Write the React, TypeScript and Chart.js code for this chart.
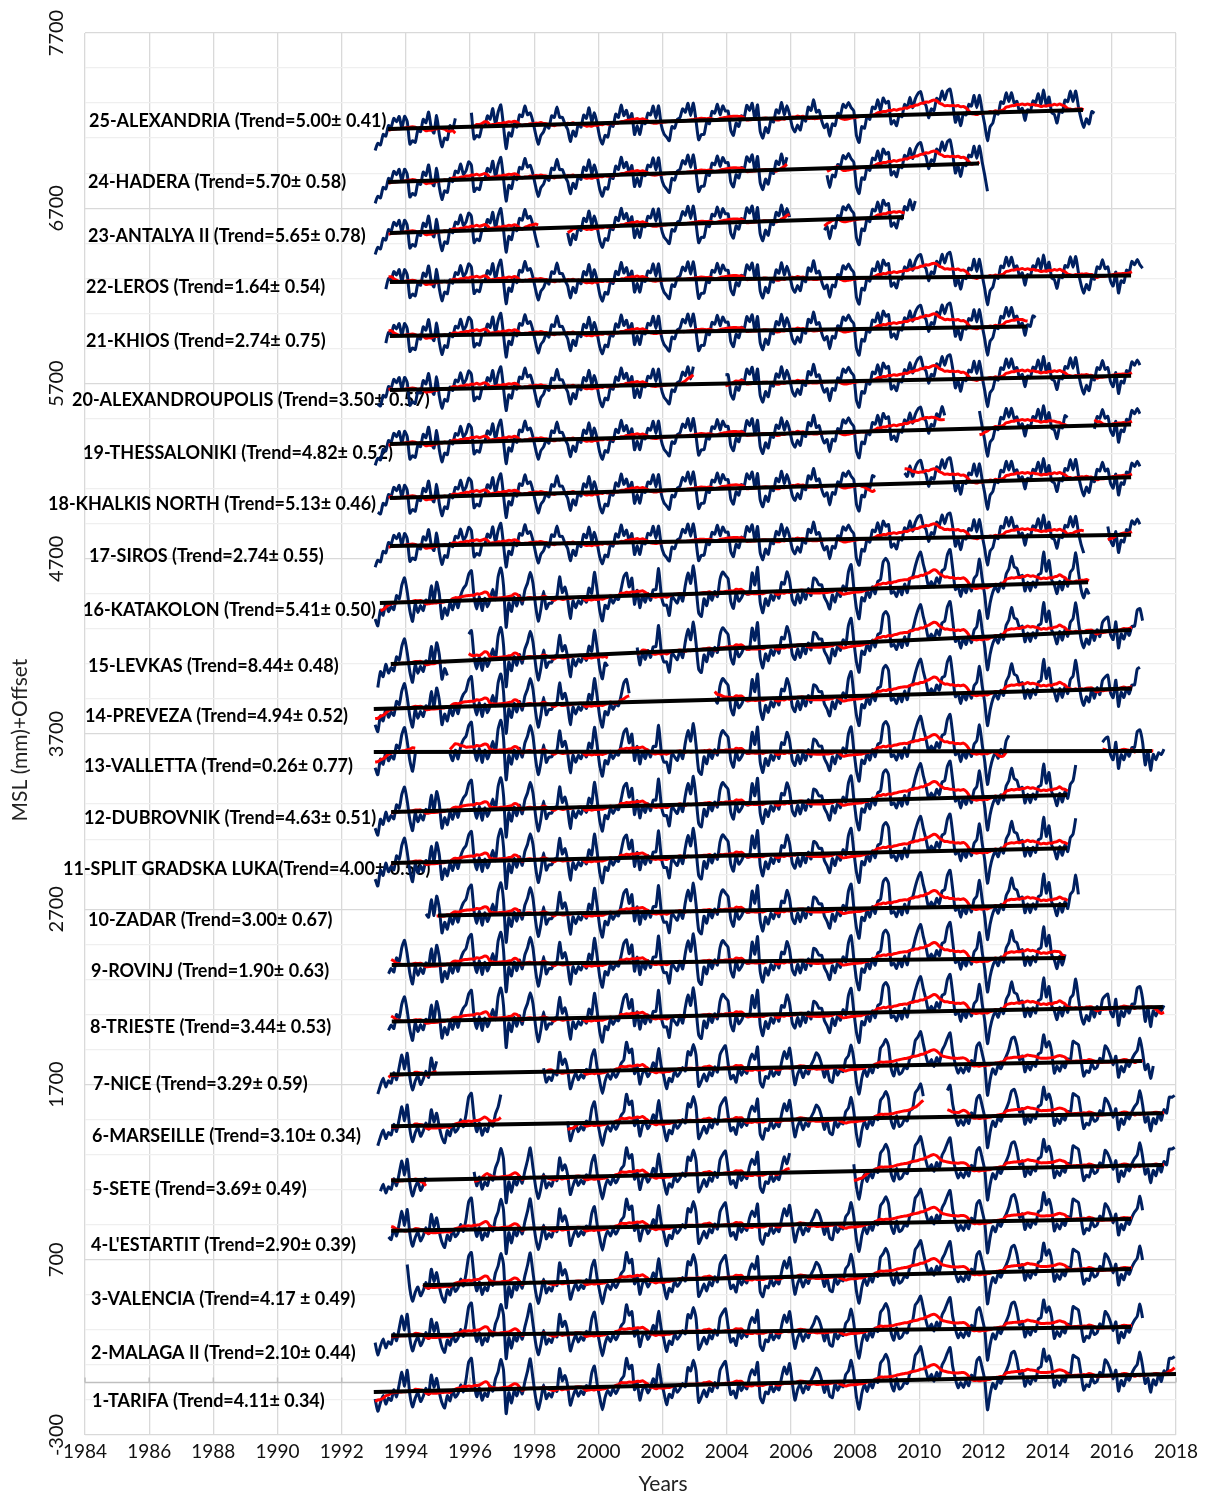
import { useEffect, useRef } from "react";
import { Chart, registerables } from "chart.js";

Chart.register(...registerables);

// ---------------- DATA ----------------
// Monthly MSL anomaly patterns (mm), one row per year, Jan..Dec, 1993..2017
const ANOM_WEST: number[][] = [
  [-40, -110, -60, -20, -70, -35, -50, 10, -30, 40, 110, 30],
  [120, -20, -90, -40, -10, -60, -30, 15, -20, 90, 20, 70],
  [-10, -70, -100, -30, -60, 0, -40, -20, 30, -10, 60, 160],
  [180, 40, -40, 10, -60, -20, -40, 20, -10, 60, 100, 170],
  [110, -140, -20, -80, -10, -40, 10, -30, 40, 100, 170, 60],
  [-50, -120, -60, 20, -60, -30, -50, 0, -20, 110, 40, 70],
  [10, -100, -50, -10, -50, -20, -40, 10, -10, 80, 120, 20],
  [-60, -130, -60, -20, -50, -10, -40, -10, 40, 60, 160, 100],
  [120, -20, 20, -80, -20, 0, -40, -10, 40, 10, 120, 20],
  [-40, -110, -50, -70, -10, -40, -20, 10, -10, 100, 80, 140],
  [80, -100, -70, -30, -70, -20, -40, 10, -20, 80, 110, 130],
  [30, -60, -40, -80, 0, -40, -10, -30, 40, 80, 50, 120],
  [-80, -110, -50, -60, -10, -50, -20, -40, 30, 90, 50, 110],
  [0, -100, -40, -10, -60, -20, -40, 10, 40, 80, 60, 10],
  [-60, -10, -80, -90, -10, -50, -20, -30, 40, 60, 120, 40],
  [-90, -160, -70, -20, -60, -10, -40, 10, -10, 100, 120, 150],
  [110, -20, -60, 10, -50, -40, -10, -20, 40, 50, 140, 160],
  [190, 120, 50, 0, 30, -10, 40, 10, 80, 110, 150, 180],
  [70, 0, -50, -20, -50, -10, -40, 20, 0, 100, 120, 60],
  [-10, -180, -90, -30, -60, -10, -30, 10, 40, 80, 140, 150],
  [100, 20, 40, -50, -10, -40, 0, -20, 50, 60, 160, 90],
  [120, 60, -60, -20, -50, -10, -30, 20, 10, 120, 110, 100],
  [10, -80, -50, -60, -10, -40, -30, 20, 0, 90, 70, 30],
  [-20, 30, -90, -30, -60, -10, -30, 10, 40, 60, 130, 50],
  [-50, -20, -100, -30, -60, 0, -40, 20, 0, 90, 90, 100],
];

const ANOM_CENTRAL: number[][] = [
  [-90, -130, -40, -70, 0, -50, -20, -40, 40, 20, 100, 140],
  [60, -50, -110, -10, -60, -20, -50, 10, -10, 90, 0, 110],
  [40, -100, -40, -80, -10, -50, 10, -40, 30, 70, 90, 150],
  [170, 20, -50, 20, -60, 10, -40, 0, 60, 0, 130, 180],
  [80, -160, -20, -70, 10, -40, 20, -30, 50, 90, 150, 90],
  [-40, -130, -60, 40, -60, -30, -30, 0, 10, 120, 30, 60],
  [-10, -120, -20, -60, -20, -40, 0, -30, 50, 20, 140, 40],
  [-80, -140, -50, -70, -10, -40, -10, -20, 40, 110, 130, 50],
  [100, -50, 30, -70, 0, -40, 10, -30, 30, 30, 150, 0],
  [-60, -60, -120, -10, -30, -50, 0, -40, 50, 120, 60, 160],
  [40, -110, -130, -30, -70, 0, -40, 10, -20, 80, 120, 100],
  [80, -50, -90, 0, -50, -30, 0, -10, -10, 110, 40, 140],
  [-60, -120, -40, -80, -20, -50, 0, -40, 50, 40, 110, 60],
  [-50, -80, -20, -70, -10, -50, 10, -30, 70, 60, 30, 30],
  [-40, -70, -110, -30, -70, -10, -40, 20, -10, 100, 140, 10],
  [-110, -170, -50, -70, -10, -50, 10, -30, 40, 50, 150, 170],
  [140, -30, -20, -50, 0, -40, 20, -30, 50, 60, 120, 170],
  [200, 130, 70, 0, 30, 0, 50, 20, 90, 100, 180, 210],
  [100, -20, 0, -60, 0, -40, 10, -30, 40, 60, 150, 40],
  [-60, -190, -100, -40, -10, -40, 10, -20, 60, 90, 160, 100],
  [90, 40, 50, -40, 10, -40, 10, -20, 50, 60, 180, 70],
  [130, 20, -10, -60, 10, -40, 20, -20, 60, 80, 170, 60],
  [-40, -90, -40, -70, 0, -50, 10, -30, 50, 70, 80, -20],
  [-50, 50, -100, -20, -50, 0, -30, 20, 20, 110, 120, 50],
  [-80, 0, -110, -20, -50, -10, -20, 10, 40, 50, 130, 80],
];

const ANOM_EAST: number[][] = [
  [-120, -80, -90, -30, -40, 20, 10, 60, 40, 70, 0, 70],
  [40, -90, -70, -80, -10, -20, 50, 30, 90, 0, -30, 70],
  [-40, -110, -60, -70, 10, -10, 50, 40, 90, 30, 50, 100],
  [80, -70, -50, -60, 0, 0, 60, 40, 100, 10, 80, 120],
  [0, -130, -40, -60, 10, -10, 60, 50, 110, 60, 70, 20],
  [-50, -110, -60, -40, 0, -20, 50, 40, 100, 40, 40, 0],
  [-30, -100, -40, -70, 0, -20, 50, 30, 90, 10, 60, 0],
  [-80, -120, -70, -80, -10, -20, 50, 30, 100, 40, 70, 10],
  [50, -70, -20, -70, 0, -10, 50, 40, 90, 20, 90, -20],
  [-70, -90, -110, -30, -40, 10, 20, 70, 50, 100, 30, 100],
  [0, -110, -80, -80, -10, -20, 50, 40, 90, 30, 80, 50],
  [50, -60, -90, -20, -40, 20, 10, 80, 50, 90, 0, 80],
  [-70, -110, -50, -80, -10, -20, 50, 30, 90, 20, 70, 20],
  [-50, -80, -40, -70, 0, -20, 60, 40, 100, 30, 40, -20],
  [-60, -40, -110, -40, -50, 20, 10, 70, 50, 80, 50, 30],
  [-110, -150, -60, -70, 0, -20, 50, 40, 90, 30, 100, 70],
  [80, -50, -30, -60, 0, -10, 60, 40, 100, 40, 90, 120],
  [130, 70, 50, -20, 30, 20, 90, 70, 130, 80, 130, 140],
  [60, -50, -10, -70, 0, -10, 50, 40, 100, 30, 100, 10],
  [-70, -160, -80, -60, 0, -10, 60, 50, 110, 60, 110, 50],
  [60, 0, 20, -50, 10, 0, 60, 50, 100, 40, 120, 30],
  [80, -10, -20, -70, 0, -10, 60, 50, 110, 50, 110, 20],
  [-50, -100, -50, -80, -10, -20, 50, 40, 90, 40, 50, -30],
  [-60, 20, -100, -30, -40, 30, 20, 80, 60, 90, 60, 40],
  [-80, -20, -110, -30, -40, 20, 10, 70, 50, 70, 40, 70],
];

const FIRST_YEAR = 1993;

// Stations 1..25
const STATION_LABELS = [
  "1-TARIFA (Trend=4.11± 0.34)",
  "2-MALAGA II (Trend=2.10± 0.44)",
  "3-VALENCIA (Trend=4.17 ± 0.49)",
  "4-L'ESTARTIT (Trend=2.90± 0.39)",
  "5-SETE (Trend=3.69± 0.49)",
  "6-MARSEILLE (Trend=3.10± 0.34)",
  "7-NICE (Trend=3.29± 0.59)",
  "8-TRIESTE (Trend=3.44± 0.53)",
  "9-ROVINJ (Trend=1.90± 0.63)",
  "10-ZADAR (Trend=3.00± 0.67)",
  "11-SPLIT GRADSKA LUKA(Trend=4.00± 0.56)",
  "12-DUBROVNIK (Trend=4.63± 0.51)",
  "13-VALLETTA (Trend=0.26± 0.77)",
  "14-PREVEZA (Trend=4.94± 0.52)",
  "15-LEVKAS (Trend=8.44± 0.48)",
  "16-KATAKOLON (Trend=5.41± 0.50)",
  "17-SIROS (Trend=2.74± 0.55)",
  "18-KHALKIS NORTH (Trend=5.13± 0.46)",
  "19-THESSALONIKI (Trend=4.82± 0.52)",
  "20-ALEXANDROUPOLIS (Trend=3.50± 0.57)",
  "21-KHIOS (Trend=2.74± 0.75)",
  "22-LEROS (Trend=1.64± 0.54)",
  "23-ANTALYA II (Trend=5.65± 0.78)",
  "24-HADERA (Trend=5.70± 0.58)",
  "25-ALEXANDRIA (Trend=5.00± 0.41)",
];

// 0 = west, 1 = central, 2 = east
const STATION_REGION = [0, 0, 0, 0, 0, 0, 0, 1, 1, 1, 1, 1, 1, 1, 1, 1, 2, 2, 2, 2, 2, 2, 2, 2, 2];

const TREND_RATE = [4.11, 2.1, 4.17, 2.9, 3.69, 3.1, 3.29, 3.44, 1.9, 3.0, 4.0, 4.63, 0.26, 4.94, 8.44, 5.41, 2.74, 5.13, 4.82, 3.5, 2.74, 1.64, 5.65, 5.7, 5.0];

const TREND_START = [1993.0, 1993.54, 1994.53, 1993.54, 1993.54, 1993.54, 1993.5, 1993.56, 1993.56, 1995.0, 1993.54, 1993.54, 1993.0, 1993.0, 1993.53, 1993.19, 1993.5, 1993.5, 1993.5, 1993.5, 1993.5, 1993.5, 1993.5, 1993.44, 1993.44];

const TREND_END = [2018.0, 2016.6, 2016.6, 2016.6, 2017.59, 2017.59, 2016.94, 2017.59, 2014.54, 2014.6, 2014.6, 2014.6, 2017.25, 2016.63, 2016.6, 2015.26, 2016.6, 2016.6, 2016.6, 2016.6, 2013.35, 2016.6, 2009.52, 2011.86, 2015.1];

// MSL + offset (mm) of the trend line at its start
const TREND_LEVEL = [-55, 268, 555, 865, 1152, 1462, 1757, 2059, 2382, 2665, 2964, 3255, 3597, 3843, 4099, 4447, 4773, 5047, 5355, 5663, 5971, 6279, 6559, 6850, 7152];

// Periods with monthly data (decimal years)
const DATA_PERIODS: number[][][] = [
  [[1993.0, 2018.0]],
  [[1993.0, 2017.0]],
  [[1994.0, 2017.0]],
  [[1993.4, 2017.0]],
  [[1993.2, 1994.65], [1996.06, 2006.0], [2007.9, 2018.0]],
  [[1993.05, 1997.0], [1998.96, 2010.15], [2010.86, 2018.0]],
  [[1993.05, 1995.0], [1998.27, 2017.3]],
  [[1993.4, 2017.7]],
  [[1993.4, 2014.6]],
  [[1994.6, 2015.0]],
  [[1993.0, 2014.9]],
  [[1993.0, 2014.95]],
  [[1993.0, 1994.3], [1995.3, 2012.8], [2015.7, 2017.65]],
  [[1993.0, 2001.0], [2003.6, 2016.9]],
  [[1993.1, 1995.3], [1995.9, 2000.3], [2001.2, 2017.0]],
  [[1993.0, 2015.3]],
  [[1993.0, 2015.2], [2015.8, 2016.95]],
  [[1993.1, 2008.7], [2009.5, 2016.95]],
  [[1993.0, 2010.8], [2011.8, 2014.7], [2015.4, 2016.95]],
  [[1993.1, 2003.0], [2003.95, 2016.9]],
  [[1993.3, 2013.7]],
  [[1993.3, 2016.97]],
  [[1993.0, 1998.2], [1999.0, 2006.0], [2007.0, 2009.9]],
  [[1993.0, 2005.9], [2007.1, 2012.2]],
  [[1993.0, 1995.6], [1996.0, 2015.5]],
];

const Y_TICK_LABELS = [-300, 700, 1700, 2700, 3700, 4700, 5700, 6700, 7700];
const X_MIN = 1984;
const X_MAX = 2018;
const X_STEP = 2;
const Y_MIN = -300;
const Y_MAX = 7700;
const Y_GRID_STEP = 200;

// ---------------- LAYOUT (pixels) ----------------
const LABEL_X = [92, 91, 91, 91, 92, 92, 93, 90, 91, 88, 63, 84, 84, 85, 88, 83, 89, 48, 83, 72, 86, 86, 88, 88, 89];
const LABEL_Y = [1401, 1353, 1299, 1245, 1189, 1136, 1084, 1027, 971, 920, 869, 818, 766, 716, 666, 610, 556, 504, 453, 400, 341, 287, 236, 182, 121];

const NAVY = "#002060";
const RED = "#ff0000";
const FONT = "Lato, 'Open Sans', sans-serif";

function buildDatasets() {
  const regions = [ANOM_WEST, ANOM_CENTRAL, ANOM_EAST].map((r) => r.flat());
  const navySets: any[] = [];
  const redSets: any[] = [];
  const trendSets: any[] = [];
  for (let k = 0; k < STATION_LABELS.length; k++) {
    const anom = regions[STATION_REGION[k]];
    const rate = TREND_RATE[k];
    const t0 = TREND_START[k];
    const t1 = TREND_END[k];
    const v0 = TREND_LEVEL[k];
    const periods = DATA_PERIODS[k];
    const times = anom.map((_, i) => FIRST_YEAR + (i + 0.5) / 12);
    const navy: (number | null)[] = anom.map((a, i) => {
      const t = times[i];
      const on = periods.some(([s, e]) => t >= s && t <= e);
      return on ? v0 + rate * (t - t0) + a : null;
    });
    // 12-month running mean inside each continuous run, restricted to trend span
    const red: (number | null)[] = navy.map(() => null);
    let i = 0;
    while (i < navy.length) {
      if (navy[i] === null) {
        i++;
        continue;
      }
      let j = i;
      while (j + 1 < navy.length && navy[j + 1] !== null) j++;
      for (let m = i; m <= j; m++) {
        const t = times[m];
        if (t < t0 - 0.05 || t > t1 + 0.05) continue;
        let sum = 0;
        let n = 0;
        for (let q = Math.max(i, m - 6); q <= Math.min(j, m + 6); q++) {
          sum += navy[q] as number;
          n++;
        }
        red[m] = sum / n;
      }
      i = j + 1;
    }
    navySets.push({
      data: times.map((t, m) => ({ x: t, y: navy[m] })),
      borderColor: NAVY,
      borderWidth: 3,
      tension: 0.2,
      spanGaps: false,
      pointRadius: 0,
      order: 3,
    });
    redSets.push({
      data: times.map((t, m) => ({ x: t, y: red[m] })),
      borderColor: RED,
      borderWidth: 3,
      tension: 0.3,
      spanGaps: false,
      pointRadius: 0,
      order: 2,
    });
    trendSets.push({
      data: [
        { x: t0, y: v0 },
        { x: t1, y: v0 + rate * (t1 - t0) },
      ],
      borderColor: "#000000",
      borderWidth: 4,
      pointRadius: 0,
      order: 1,
    });
  }
  return [...navySets, ...redSets, ...trendSets];
}

const decorPlugin = {
  id: "decor",
  beforeDatasetsDraw(chart: any) {
    const { ctx, scales } = chart;
    const xs = scales.x;
    const ys = scales.y;
    const y0 = ys.getPixelForValue(0);
    ctx.save();
    ctx.strokeStyle = "#bfbfbf";
    ctx.lineWidth = 1.5;
    ctx.beginPath();
    ctx.moveTo(xs.left, y0);
    ctx.lineTo(xs.right, y0);
    for (let v = X_MIN; v <= X_MAX; v += X_STEP) {
      const px = xs.getPixelForValue(v);
      ctx.moveTo(px, y0);
      ctx.lineTo(px, y0 - 5);
    }
    ctx.stroke();
    // station labels
    ctx.fillStyle = "#000";
    ctx.font = `bold 18px ${FONT}`;
    ctx.textAlign = "left";
    ctx.textBaseline = "middle";
    STATION_LABELS.forEach((s, k) => ctx.fillText(s, LABEL_X[k], LABEL_Y[k]));
    ctx.restore();
  },
  afterDraw(chart: any) {
    const { ctx, scales } = chart;
    const xs = scales.x;
    const ys = scales.y;
    ctx.save();
    ctx.fillStyle = "#111";
    ctx.font = `19px ${FONT}`;
    ctx.textAlign = "center";
    ctx.textBaseline = "middle";
    for (let v = X_MIN; v <= X_MAX; v += X_STEP) {
      ctx.fillText(String(v), xs.getPixelForValue(v), 1452);
    }
    ctx.font = `20px ${FONT}`;
    Y_TICK_LABELS.forEach((v) => {
      const py = ys.getPixelForValue(v);
      ctx.save();
      ctx.translate(57, py);
      ctx.rotate(-Math.PI / 2);
      ctx.fillText(String(v), 0, 0);
      ctx.restore();
    });
    ctx.fillStyle = "#222";
    ctx.font = `21px ${FONT}`;
    ctx.fillText("Years", 663, 1484);
    ctx.save();
    ctx.translate(20, 740);
    ctx.rotate(-Math.PI / 2);
    ctx.fillText("MSL (mm)+Offset", 0, 0);
    ctx.restore();
    ctx.restore();
  },
};

export default function App() {
  const ref = useRef<HTMLCanvasElement | null>(null);
  useEffect(() => {
    if (!ref.current) return;
    const yGrid: number[] = [];
    for (let v = Y_MIN; v <= Y_MAX; v += Y_GRID_STEP) yGrid.push(v);
    const chart = new Chart(ref.current, {
      type: "line",
      data: { datasets: buildDatasets() },
      options: {
        responsive: false,
        animation: false,
        layout: { padding: { left: 85, right: 37, top: 33, bottom: 61 } },
        plugins: { legend: { display: false }, tooltip: { enabled: false } },
        elements: { point: { radius: 0 } },
        scales: {
          x: {
            type: "linear",
            min: X_MIN,
            max: X_MAX,
            ticks: { display: false, stepSize: X_STEP },
            grid: { color: "#d9d9d9", lineWidth: 1.3, drawTicks: false },
            border: { display: false },
            afterFit: (s: any) => {
              s.height = 0;
            },
          },
          y: {
            type: "linear",
            min: Y_MIN,
            max: Y_MAX,
            afterBuildTicks: (s: any) => {
              s.ticks = yGrid.map((v) => ({ value: v }));
            },
            ticks: { display: false },
            grid: {
              color: (c: any) => ((c.tick.value - Y_MIN) % 1000 === 0 ? "#d9d9d9" : "#efefef"),
              lineWidth: 1.3,
              drawTicks: false,
            },
            border: { display: false },
            afterFit: (s: any) => {
              s.width = 0;
            },
          },
        },
      },
      plugins: [decorPlugin],
    } as any);
    return () => chart.destroy();
  }, []);
  return (
    <div style={{ position: "absolute", left: 0, top: 0, width: 1213, height: 1496, background: "#fff" }}>
      <canvas ref={ref} width={1213} height={1496} />
    </div>
  );
}
